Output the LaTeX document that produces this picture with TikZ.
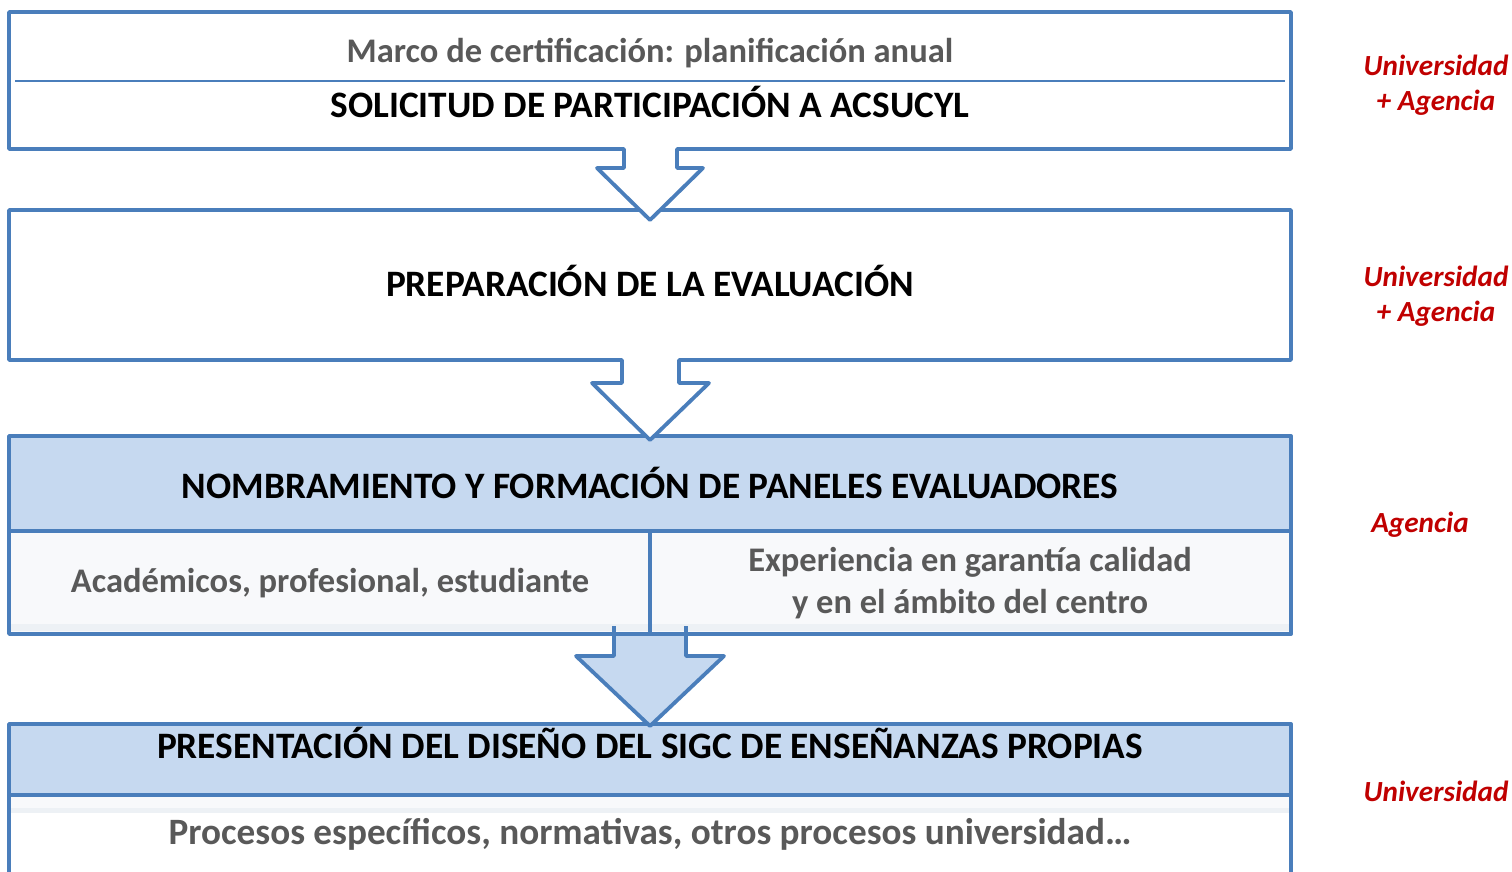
\documentclass[tikz,border=0pt]{standalone}
\usepackage{fontspec}
\setmainfont{Carlito}
\definecolor{bl}{HTML}{4A7EBB}
\definecolor{hdfill}{HTML}{C6D9F0}
\definecolor{ltfill}{HTML}{F8F9FB}
\definecolor{band}{HTML}{EDF1F5}
\definecolor{tgray}{HTML}{595959}
\definecolor{tred}{HTML}{C00000}
\begin{document}
\begin{tikzpicture}[x=1pt,y=-1pt,
  frame/.style={draw=bl, line width=3.8pt, line join=round},
  sepline/.style={draw=bl, line width=3.4pt},
  thinsep/.style={draw=bl, line width=1.6pt},
  titletext/.style={font=\bfseries\fontsize{37.3}{44}\selectfont, text=black, inner sep=0pt},
  subtext/.style={font=\bfseries\fontsize{34.5}{42}\selectfont, text=tgray, align=center, inner sep=0pt},
  bigsub/.style={subtext, font=\bfseries\fontsize{37.2}{44}\selectfont},
  whotext/.style={font=\bfseries\itshape\fontsize{29.2}{35}\selectfont, text=tred, align=center, inner sep=0pt}]
\useasboundingbox (0,0) rectangle (1512,871);
\clip (0,0) rectangle (1512,871);

% ---- Box 4 ----
\fill[hdfill] (9,724) rectangle (1291,795);
\fill[ltfill] (9,795) rectangle (1291,808);
\fill[band] (9,808) rectangle (1291,813);
\draw[frame] (9,900) -- (9,724) -- (1291,724) -- (1291,900);
\draw[sepline] (9,795) -- (1291,795);

% ---- Box 3 ----
\fill[hdfill] (9,436) rectangle (1291,531);
\fill[ltfill] (9,531) rectangle (1291,634);
\fill[band] (9,624) rectangle (1291,631);
\draw[frame] (9,436) rectangle (1291,634);
\draw[sepline] (9,531) -- (1291,531);
\draw[frame] (650,531) -- (650,634);

% Arrow 3
\fill[hdfill] (614,634) -- (614,656) -- (576,656) -- (650,726) -- (724,656) -- (686,656) -- (686,634) -- cycle;
\draw[frame] (614,626) -- (614,656) -- (576,656) -- (650,726) -- (724,656) -- (686,656) -- (686,626);
\draw[frame] (9,634) -- (1291,634);

% Box 2 with arrow 2
\path[frame, fill=white] (9,210) -- (9,360) -- (622,360) -- (622,383) -- (592,383) -- (650,440)
   -- (709,383) -- (679,383) -- (679,360) -- (1291,360) -- (1291,210) -- cycle;

% Box 1 with arrow 1
\path[frame, fill=white] (9,12) -- (1291,12) -- (1291,149) -- (677,149) -- (677,168) -- (703,168)
   -- (650,220) -- (597,168) -- (624,168) -- (624,149) -- (9,149) -- cycle;
\draw[thinsep] (15,81) -- (1285,81);

% ---- Texts ----
\node[subtext] (marco) at (650,53) {Marco de certificación: planificación anual};
\node[titletext] (solic) at (650,102) {SOLICITUD DE PARTICIPACIÓN A ACSUCYL};
\node[titletext] (prep) at (650,281) {PREPARACIÓN DE LA EVALUACIÓN};
\node[titletext] (nomb) at (650,483) {NOMBRAMIENTO Y FORMACIÓN DE PANELES EVALUADORES};
\node[subtext] (acad) at (330,583) {Académicos, profesional, estudiante};
\node[subtext] (exper) at (970,583) {Experiencia en garantía calidad\\y en el ámbito del centro};
\node[titletext] (pres) at (650,743) {PRESENTACIÓN DEL DISEÑO DEL SIGC DE ENSEÑANZAS PROPIAS};
\node[bigsub] (proc) at (650,834) {Procesos específicos, normativas, otros procesos universidad…};

\node[whotext] (who1) at (1436,85) {Universidad\\+ Agencia};
\node[whotext] (who2) at (1436,296) {Universidad\\+ Agencia};
\node[whotext] (who3) at (1420,525) {Agencia};
\node[whotext] (who4) at (1436,791) {Universidad};
\end{tikzpicture}
\end{document}
